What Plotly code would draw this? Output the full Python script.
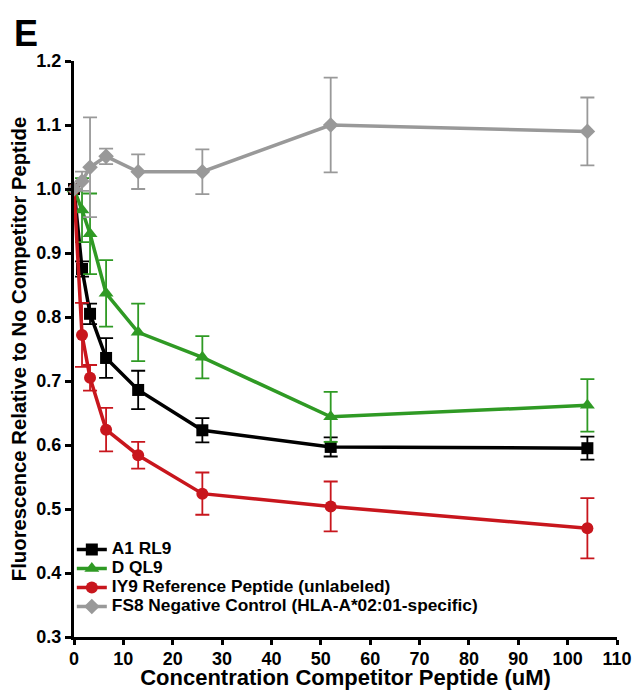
import plotly.graph_objects as go

conc = [0, 1.625, 3.25, 6.5, 13, 26, 52, 104]

names = ["A1 RL9", "D QL9", "IY9 Reference Peptide (unlabeled)",
         "FS8 Negative Control (HLA-A*02:01-specific)"]

a1_rl9 = [1.0, 0.875, 0.805, 0.736, 0.686, 0.623, 0.597, 0.595]
a1_rl9_err = [0.0, 0.012, 0.016, 0.031, 0.030, 0.019, 0.015, 0.018]

d_ql9 = [1.0, 0.967, 0.930, 0.837, 0.776, 0.737, 0.644, 0.662]
d_ql9_err = [0.0, 0.05, 0.063, 0.052, 0.045, 0.033, 0.039, 0.041]

iy9 = [1.0, 0.772, 0.705, 0.624, 0.584, 0.524, 0.504, 0.470]
iy9_err = [0.0, 0.05, 0.02, 0.034, 0.021, 0.033, 0.039, 0.047]

fs8 = [1.0, 1.012, 1.034, 1.051, 1.027, 1.027, 1.100, 1.090]
fs8_err = [0.0, 0.015, 0.078, 0.012, 0.027, 0.035, 0.074, 0.053]

series = [
    (names[0], a1_rl9, a1_rl9_err, "#000000", "square", 12),
    (names[1], d_ql9, d_ql9_err, "#2f9a24", "triangle-up", 13),
    (names[2], iy9, iy9_err, "#c8161d", "circle", 12),
    (names[3], fs8, fs8_err, "#999999", "diamond", 12),
]

fig = go.Figure()
for name, y, err, color, sym, sz in series:
    fig.add_trace(go.Scatter(
        x=conc, y=y, name="<span style='font-size:17.3px'>" + name + "</span>",
        mode="lines+markers",
        line=dict(color=color, width=3.5),
        marker=dict(symbol=sym, size=sz, color=color),
        error_y=dict(type="data", array=err, visible=True, color=color,
                     thickness=1.8, width=7),
        cliponaxis=False,
    ))

font_family = "Liberation Sans, Arial, sans-serif"

# page body adds an 8px margin, so the figure is offset by 8px
fig.update_layout(
    width=633, height=682,
    margin=dict(l=66, r=24, t=53, b=53, autoexpand=False),
    paper_bgcolor="white", plot_bgcolor="white",
    font=dict(family=font_family, color="black"),
    showlegend=True,
    legend=dict(x=-0.004, y=0.177, xanchor="left", yanchor="top",
                bgcolor="rgba(0,0,0,0)",
                font=dict(size=12.3, family=font_family, color="black", weight="bold"),
                tracegroupgap=0, itemwidth=30),
    xaxis=dict(range=[0, 110], tickmode="array", tickvals=list(range(0, 111, 10)),
               automargin=False,
               showgrid=False, zeroline=False, showline=True, linecolor="black", linewidth=3,
               ticks="outside", ticklen=5, tickwidth=2.5, tickcolor="black",
               ticklabelstandoff=-2,
               tickfont=dict(size=18, family=font_family, weight="bold"),
               title=dict(text="<b>Concentration Competitor Peptide (uM)</b>",
                          font=dict(size=22, family=font_family), standoff=4)),
    yaxis=dict(range=[0.3, 1.2], tickmode="array",
               tickvals=[0.3, 0.4, 0.5, 0.6, 0.7, 0.8, 0.9, 1.0, 1.1, 1.2],
               tickformat=".1f", automargin=False,
               showgrid=False, zeroline=False, showline=True, linecolor="black", linewidth=3,
               ticks="outside", ticklen=6, tickwidth=2.5, tickcolor="black",
               tickfont=dict(size=18, family=font_family, weight="bold"),
               title=dict(text="<b>Fluorescence Relative to No Competitor Peptide</b>",
                          font=dict(size=20.3, family=font_family), standoff=7)),
    annotations=[dict(text="<b>E</b>", xref="paper", yref="paper",
                      x=-0.088, y=1.047, xanchor="center", yanchor="middle",
                      showarrow=False, font=dict(size=36, family=font_family, color="black"))],
)

fig.write_html("out.html")
